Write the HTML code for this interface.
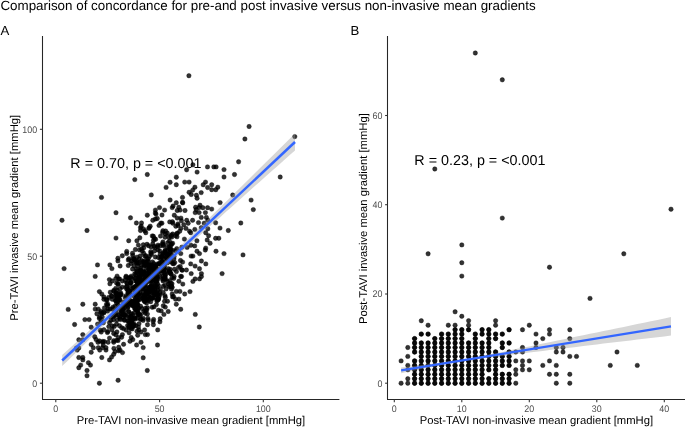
<!DOCTYPE html>
<html><head><meta charset="utf-8"><style>
html,body{margin:0;padding:0;background:#fff;width:685px;height:427px;overflow:hidden}
svg{display:block;will-change:transform}
text{font-family:"Liberation Sans",sans-serif;text-rendering:geometricPrecision}
</style></head><body>
<svg width="685" height="427" viewBox="0 0 685 427">
<rect width="685" height="427" fill="#fff"/>
<text x="0.4" y="10.4" font-size="13.38" fill="#000">Comparison of concordance for pre-and post invasive versus non-invasive mean gradients</text><text x="0.6" y="35" font-size="13.2" fill="#000">A</text><text x="350.6" y="35" font-size="13.2" fill="#000">B</text><g fill="#000" fill-opacity="0.8" stroke="#000" stroke-opacity="0.8" stroke-width="0.5"><circle cx="188.9" cy="75.7" r="2.2"/><circle cx="249.1" cy="126.5" r="2.2"/><circle cx="244.9" cy="139.0" r="2.2"/><circle cx="294.8" cy="136.6" r="2.2"/><circle cx="238.6" cy="161.8" r="2.2"/><circle cx="192.9" cy="164.8" r="2.2"/><circle cx="186.6" cy="169.8" r="2.2"/><circle cx="197.1" cy="172.1" r="2.2"/><circle cx="207.5" cy="166.9" r="2.2"/><circle cx="213.8" cy="166.9" r="2.2"/><circle cx="216.1" cy="166.9" r="2.2"/><circle cx="224.0" cy="169.6" r="2.2"/><circle cx="224.0" cy="177.0" r="2.2"/><circle cx="234.5" cy="174.5" r="2.2"/><circle cx="280.2" cy="177.0" r="2.2"/><circle cx="62.0" cy="220.3" r="2.2"/><circle cx="87.0" cy="230.5" r="2.2"/><circle cx="101.5" cy="197.4" r="2.2"/><circle cx="116.0" cy="212.7" r="2.2"/><circle cx="116.0" cy="238.1" r="2.2"/><circle cx="128.7" cy="240.7" r="2.2"/><circle cx="130.5" cy="217.8" r="2.2"/><circle cx="134.8" cy="179.6" r="2.2"/><circle cx="147.3" cy="174.5" r="2.2"/><circle cx="151.3" cy="194.9" r="2.2"/><circle cx="147.3" cy="215.2" r="2.2"/><circle cx="166.1" cy="187.4" r="2.2"/><circle cx="170.1" cy="182.3" r="2.2"/><circle cx="176.3" cy="177.2" r="2.2"/><circle cx="176.3" cy="184.7" r="2.2"/><circle cx="170.1" cy="200.0" r="2.2"/><circle cx="176.3" cy="202.7" r="2.2"/><circle cx="172.2" cy="207.6" r="2.2"/><circle cx="155.4" cy="210.1" r="2.2"/><circle cx="159.5" cy="207.6" r="2.2"/><circle cx="164.6" cy="210.1" r="2.2"/><circle cx="162.0" cy="215.0" r="2.2"/><circle cx="155.4" cy="219.0" r="2.2"/><circle cx="136.4" cy="223.0" r="2.2"/><circle cx="141.5" cy="223.0" r="2.2"/><circle cx="184.7" cy="182.1" r="2.2"/><circle cx="189.1" cy="182.1" r="2.2"/><circle cx="194.9" cy="187.2" r="2.2"/><circle cx="189.1" cy="192.3" r="2.2"/><circle cx="192.7" cy="190.1" r="2.2"/><circle cx="191.2" cy="194.5" r="2.2"/><circle cx="196.4" cy="195.3" r="2.2"/><circle cx="197.1" cy="198.2" r="2.2"/><circle cx="182.5" cy="197.4" r="2.2"/><circle cx="182.5" cy="202.3" r="2.2"/><circle cx="178.8" cy="207.2" r="2.2"/><circle cx="195.6" cy="207.2" r="2.2"/><circle cx="205.5" cy="182.1" r="2.2"/><circle cx="203.2" cy="184.7" r="2.2"/><circle cx="211.7" cy="184.7" r="2.2"/><circle cx="207.6" cy="187.5" r="2.2"/><circle cx="217.8" cy="187.2" r="2.2"/><circle cx="211.7" cy="189.7" r="2.2"/><circle cx="215.8" cy="189.7" r="2.2"/><circle cx="201.2" cy="192.6" r="2.2"/><circle cx="232.7" cy="195.0" r="2.2"/><circle cx="251.1" cy="200.1" r="2.2"/><circle cx="220.1" cy="202.6" r="2.2"/><circle cx="253.3" cy="209.6" r="2.2"/><circle cx="202.9" cy="207.7" r="2.2"/><circle cx="207.6" cy="207.7" r="2.2"/><circle cx="211.7" cy="209.1" r="2.2"/><circle cx="200.0" cy="205.2" r="2.2"/><circle cx="240.8" cy="223.0" r="2.2"/><circle cx="243.0" cy="254.9" r="2.2"/><circle cx="140.5" cy="227.6" r="2.2"/><circle cx="140.5" cy="230.5" r="2.2"/><circle cx="136.9" cy="240.8" r="2.2"/><circle cx="139.8" cy="237.8" r="2.2"/><circle cx="138.4" cy="245.1" r="2.2"/><circle cx="135.4" cy="249.5" r="2.2"/><circle cx="126.7" cy="251.4" r="2.2"/><circle cx="126.7" cy="253.6" r="2.2"/><circle cx="132.5" cy="253.2" r="2.2"/><circle cx="122.3" cy="255.8" r="2.2"/><circle cx="117.9" cy="258.3" r="2.2"/><circle cx="117.9" cy="260.9" r="2.2"/><circle cx="128.9" cy="258.7" r="2.2"/><circle cx="133.2" cy="258.7" r="2.2"/><circle cx="139.1" cy="259.0" r="2.2"/><circle cx="97.5" cy="264.9" r="2.2"/><circle cx="109.9" cy="264.9" r="2.2"/><circle cx="131.0" cy="263.4" r="2.2"/><circle cx="138.4" cy="263.4" r="2.2"/><circle cx="197.0" cy="251.2" r="2.2"/><circle cx="199.5" cy="253.6" r="2.2"/><circle cx="205.3" cy="250.0" r="2.2"/><circle cx="216.0" cy="251.2" r="2.2"/><circle cx="224.0" cy="253.6" r="2.2"/><circle cx="192.9" cy="256.1" r="2.2"/><circle cx="201.4" cy="261.0" r="2.2"/><circle cx="205.8" cy="263.9" r="2.2"/><circle cx="190.7" cy="263.9" r="2.2"/><circle cx="195.1" cy="266.1" r="2.2"/><circle cx="199.5" cy="268.7" r="2.2"/><circle cx="191.2" cy="273.6" r="2.2"/><circle cx="201.4" cy="273.6" r="2.2"/><circle cx="201.4" cy="276.6" r="2.2"/><circle cx="222.1" cy="273.6" r="2.2"/><circle cx="195.1" cy="278.9" r="2.2"/><circle cx="199.5" cy="278.9" r="2.2"/><circle cx="192.9" cy="281.4" r="2.2"/><circle cx="190.0" cy="291.6" r="2.2"/><circle cx="64.1" cy="268.6" r="2.2"/><circle cx="95.2" cy="276.4" r="2.2"/><circle cx="111.9" cy="268.6" r="2.2"/><circle cx="120.1" cy="266.0" r="2.2"/><circle cx="115.8" cy="278.6" r="2.2"/><circle cx="112.3" cy="281.0" r="2.2"/><circle cx="109.9" cy="283.8" r="2.2"/><circle cx="118.0" cy="283.8" r="2.2"/><circle cx="99.4" cy="291.6" r="2.2"/><circle cx="101.8" cy="294.1" r="2.2"/><circle cx="103.9" cy="296.9" r="2.2"/><circle cx="103.9" cy="299.3" r="2.2"/><circle cx="112.3" cy="299.3" r="2.2"/><circle cx="116.5" cy="296.9" r="2.2"/><circle cx="120.1" cy="288.8" r="2.2"/><circle cx="120.1" cy="294.1" r="2.2"/><circle cx="82.8" cy="304.2" r="2.2"/><circle cx="95.2" cy="304.2" r="2.2"/><circle cx="68.2" cy="309.4" r="2.2"/><circle cx="95.2" cy="309.1" r="2.2"/><circle cx="98.3" cy="309.1" r="2.2"/><circle cx="107.8" cy="304.2" r="2.2"/><circle cx="107.8" cy="309.1" r="2.2"/><circle cx="103.9" cy="312.0" r="2.2"/><circle cx="96.9" cy="313.8" r="2.2"/><circle cx="112.3" cy="309.1" r="2.2"/><circle cx="118.0" cy="304.2" r="2.2"/><circle cx="120.1" cy="300.0" r="2.2"/><circle cx="74.6" cy="324.5" r="2.2"/><circle cx="84.9" cy="319.6" r="2.2"/><circle cx="89.1" cy="319.6" r="2.2"/><circle cx="91.2" cy="327.2" r="2.2"/><circle cx="82.8" cy="334.6" r="2.2"/><circle cx="78.8" cy="339.8" r="2.2"/><circle cx="82.8" cy="339.8" r="2.2"/><circle cx="76.5" cy="348.0" r="2.2"/><circle cx="78.8" cy="348.0" r="2.2"/><circle cx="91.2" cy="344.5" r="2.2"/><circle cx="93.3" cy="347.7" r="2.2"/><circle cx="91.2" cy="352.2" r="2.2"/><circle cx="97.6" cy="324.1" r="2.2"/><circle cx="99.4" cy="317.0" r="2.2"/><circle cx="94.7" cy="336.7" r="2.2"/><circle cx="96.1" cy="339.5" r="2.2"/><circle cx="98.0" cy="342.3" r="2.2"/><circle cx="98.3" cy="347.7" r="2.2"/><circle cx="99.7" cy="350.1" r="2.2"/><circle cx="102.5" cy="347.7" r="2.2"/><circle cx="106.0" cy="347.7" r="2.2"/><circle cx="106.0" cy="350.1" r="2.2"/><circle cx="101.8" cy="357.5" r="2.2"/><circle cx="78.8" cy="357.5" r="2.2"/><circle cx="82.8" cy="357.5" r="2.2"/><circle cx="82.8" cy="359.9" r="2.2"/><circle cx="88.4" cy="362.7" r="2.2"/><circle cx="90.5" cy="365.1" r="2.2"/><circle cx="80.7" cy="365.1" r="2.2"/><circle cx="78.8" cy="367.7" r="2.2"/><circle cx="109.5" cy="359.9" r="2.2"/><circle cx="111.6" cy="357.1" r="2.2"/><circle cx="113.7" cy="354.3" r="2.2"/><circle cx="115.1" cy="351.5" r="2.2"/><circle cx="118.7" cy="347.3" r="2.2"/><circle cx="118.7" cy="350.8" r="2.2"/><circle cx="103.9" cy="329.7" r="2.2"/><circle cx="107.4" cy="332.5" r="2.2"/><circle cx="102.5" cy="342.3" r="2.2"/><circle cx="108.1" cy="342.3" r="2.2"/><circle cx="113.7" cy="342.3" r="2.2"/><circle cx="109.5" cy="338.1" r="2.2"/><circle cx="77.2" cy="350.1" r="2.2"/><circle cx="87.0" cy="370.5" r="2.2"/><circle cx="87.0" cy="375.7" r="2.2"/><circle cx="99.4" cy="383.2" r="2.2"/><circle cx="118.1" cy="380.3" r="2.2"/><circle cx="120.1" cy="350.1" r="2.2"/><circle cx="122.5" cy="352.6" r="2.2"/><circle cx="136.6" cy="345.0" r="2.2"/><circle cx="143.2" cy="347.6" r="2.2"/><circle cx="143.2" cy="357.8" r="2.2"/><circle cx="147.3" cy="370.5" r="2.2"/><circle cx="157.5" cy="345.0" r="2.2"/><circle cx="199.3" cy="327.0" r="2.2"/><circle cx="159.9" cy="321.8" r="2.2"/><circle cx="153.4" cy="324.7" r="2.2"/><circle cx="157.7" cy="329.9" r="2.2"/><circle cx="141.0" cy="342.2" r="2.2"/><circle cx="131.2" cy="337.5" r="2.2"/><circle cx="145.3" cy="334.6" r="2.2"/><circle cx="147.5" cy="334.6" r="2.2"/><circle cx="141.0" cy="332.0" r="2.2"/><circle cx="144.6" cy="329.9" r="2.2"/><circle cx="138.8" cy="329.9" r="2.2"/><circle cx="132.9" cy="324.7" r="2.2"/><circle cx="135.8" cy="325.8" r="2.2"/><circle cx="147.5" cy="324.7" r="2.2"/><circle cx="182.8" cy="284.1" r="2.2"/><circle cx="184.7" cy="294.0" r="2.2"/><circle cx="176.3" cy="291.4" r="2.2"/><circle cx="179.9" cy="291.4" r="2.2"/><circle cx="172.2" cy="294.0" r="2.2"/><circle cx="172.6" cy="296.9" r="2.2"/><circle cx="175.5" cy="299.1" r="2.2"/><circle cx="178.9" cy="299.1" r="2.2"/><circle cx="176.3" cy="304.2" r="2.2"/><circle cx="180.7" cy="309.3" r="2.2"/><circle cx="195.3" cy="314.4" r="2.2"/><circle cx="160.2" cy="318.8" r="2.2"/><circle cx="153.6" cy="319.5" r="2.2"/><circle cx="163.9" cy="314.4" r="2.2"/><circle cx="168.2" cy="311.5" r="2.2"/><circle cx="165.3" cy="307.1" r="2.2"/><circle cx="167.5" cy="301.3" r="2.2"/><circle cx="164.6" cy="301.3" r="2.2"/><circle cx="174.1" cy="276.5" r="2.2"/><circle cx="180.7" cy="276.5" r="2.2"/><circle cx="167.5" cy="281.6" r="2.2"/><circle cx="170.4" cy="286.4" r="2.2"/><circle cx="166.1" cy="288.9" r="2.2"/><circle cx="177.2" cy="210.5" r="2.2"/><circle cx="185.0" cy="210.5" r="2.2"/><circle cx="199.1" cy="207.6" r="2.2"/><circle cx="195.2" cy="212.6" r="2.2"/><circle cx="199.1" cy="212.6" r="2.2"/><circle cx="205.4" cy="212.6" r="2.2"/><circle cx="155.3" cy="213.0" r="2.2"/><circle cx="174.3" cy="215.2" r="2.2"/><circle cx="177.2" cy="218.1" r="2.2"/><circle cx="180.9" cy="218.1" r="2.2"/><circle cx="201.3" cy="217.4" r="2.2"/><circle cx="206.4" cy="217.4" r="2.2"/><circle cx="207.9" cy="220.3" r="2.2"/><circle cx="152.8" cy="220.3" r="2.2"/><circle cx="186.7" cy="220.3" r="2.2"/><circle cx="192.6" cy="220.3" r="2.2"/><circle cx="188.2" cy="223.2" r="2.2"/><circle cx="204.2" cy="223.2" r="2.2"/><circle cx="215.6" cy="222.8" r="2.2"/><circle cx="220.0" cy="228.1" r="2.2"/><circle cx="228.3" cy="230.5" r="2.2"/><circle cx="172.8" cy="223.2" r="2.2"/><circle cx="161.9" cy="223.2" r="2.2"/><circle cx="150.2" cy="226.2" r="2.2"/><circle cx="148.8" cy="228.4" r="2.2"/><circle cx="159.0" cy="225.4" r="2.2"/><circle cx="175.8" cy="226.2" r="2.2"/><circle cx="180.9" cy="228.4" r="2.2"/><circle cx="183.8" cy="224.7" r="2.2"/><circle cx="186.0" cy="228.4" r="2.2"/><circle cx="201.3" cy="227.6" r="2.2"/><circle cx="141.2" cy="226.2" r="2.2"/><circle cx="143.6" cy="229.1" r="2.2"/><circle cx="145.8" cy="232.7" r="2.2"/><circle cx="205.7" cy="232.7" r="2.2"/><circle cx="208.6" cy="235.7" r="2.2"/><circle cx="215.6" cy="238.3" r="2.2"/><circle cx="218.8" cy="238.3" r="2.2"/><circle cx="196.9" cy="240.8" r="2.2"/><circle cx="207.2" cy="240.0" r="2.2"/><circle cx="210.1" cy="243.2" r="2.2"/><circle cx="194.7" cy="245.9" r="2.2"/><circle cx="205.7" cy="248.1" r="2.2"/><circle cx="189.6" cy="231.3" r="2.2"/><circle cx="191.1" cy="256.1" r="2.2"/><circle cx="140.8" cy="275.2" r="2.2"/><circle cx="130.3" cy="300.5" r="2.2"/><circle cx="104.4" cy="341.6" r="2.2"/><circle cx="140.0" cy="281.7" r="2.2"/><circle cx="128.3" cy="293.0" r="2.2"/><circle cx="118.5" cy="315.2" r="2.2"/><circle cx="145.4" cy="275.7" r="2.2"/><circle cx="153.6" cy="263.5" r="2.2"/><circle cx="156.8" cy="299.6" r="2.2"/><circle cx="143.6" cy="272.3" r="2.2"/><circle cx="142.7" cy="298.4" r="2.2"/><circle cx="168.9" cy="237.3" r="2.2"/><circle cx="146.6" cy="303.0" r="2.2"/><circle cx="122.3" cy="311.4" r="2.2"/><circle cx="160.6" cy="270.6" r="2.2"/><circle cx="148.6" cy="292.0" r="2.2"/><circle cx="106.5" cy="304.2" r="2.2"/><circle cx="152.0" cy="287.4" r="2.2"/><circle cx="121.3" cy="294.6" r="2.2"/><circle cx="139.9" cy="289.0" r="2.2"/><circle cx="171.0" cy="258.0" r="2.2"/><circle cx="155.0" cy="292.3" r="2.2"/><circle cx="126.8" cy="289.3" r="2.2"/><circle cx="155.8" cy="278.5" r="2.2"/><circle cx="128.2" cy="290.5" r="2.2"/><circle cx="156.5" cy="275.1" r="2.2"/><circle cx="113.7" cy="333.5" r="2.2"/><circle cx="132.2" cy="320.4" r="2.2"/><circle cx="163.9" cy="279.0" r="2.2"/><circle cx="138.9" cy="277.3" r="2.2"/><circle cx="153.5" cy="240.3" r="2.2"/><circle cx="134.7" cy="273.7" r="2.2"/><circle cx="162.9" cy="252.9" r="2.2"/><circle cx="115.7" cy="288.4" r="2.2"/><circle cx="175.6" cy="250.8" r="2.2"/><circle cx="164.4" cy="277.7" r="2.2"/><circle cx="139.0" cy="276.6" r="2.2"/><circle cx="118.4" cy="305.7" r="2.2"/><circle cx="147.0" cy="244.3" r="2.2"/><circle cx="126.8" cy="303.6" r="2.2"/><circle cx="149.8" cy="287.9" r="2.2"/><circle cx="101.1" cy="311.4" r="2.2"/><circle cx="152.8" cy="298.2" r="2.2"/><circle cx="154.7" cy="271.5" r="2.2"/><circle cx="137.9" cy="300.3" r="2.2"/><circle cx="144.7" cy="301.8" r="2.2"/><circle cx="128.4" cy="311.8" r="2.2"/><circle cx="143.9" cy="296.5" r="2.2"/><circle cx="180.5" cy="260.5" r="2.2"/><circle cx="102.9" cy="341.4" r="2.2"/><circle cx="135.6" cy="309.5" r="2.2"/><circle cx="143.7" cy="253.3" r="2.2"/><circle cx="115.4" cy="310.4" r="2.2"/><circle cx="147.5" cy="293.1" r="2.2"/><circle cx="171.5" cy="234.9" r="2.2"/><circle cx="154.3" cy="270.9" r="2.2"/><circle cx="176.8" cy="248.6" r="2.2"/><circle cx="151.1" cy="246.9" r="2.2"/><circle cx="128.2" cy="289.7" r="2.2"/><circle cx="171.7" cy="254.8" r="2.2"/><circle cx="130.2" cy="295.0" r="2.2"/><circle cx="140.5" cy="272.6" r="2.2"/><circle cx="129.8" cy="317.7" r="2.2"/><circle cx="118.5" cy="296.9" r="2.2"/><circle cx="123.6" cy="328.6" r="2.2"/><circle cx="154.1" cy="267.7" r="2.2"/><circle cx="146.7" cy="282.0" r="2.2"/><circle cx="126.1" cy="276.2" r="2.2"/><circle cx="133.7" cy="302.8" r="2.2"/><circle cx="122.1" cy="307.4" r="2.2"/><circle cx="123.0" cy="309.3" r="2.2"/><circle cx="149.7" cy="264.9" r="2.2"/><circle cx="146.1" cy="299.4" r="2.2"/><circle cx="168.6" cy="284.3" r="2.2"/><circle cx="133.5" cy="303.6" r="2.2"/><circle cx="165.2" cy="275.2" r="2.2"/><circle cx="158.7" cy="263.7" r="2.2"/><circle cx="163.4" cy="245.8" r="2.2"/><circle cx="146.2" cy="299.0" r="2.2"/><circle cx="135.5" cy="288.2" r="2.2"/><circle cx="150.5" cy="290.5" r="2.2"/><circle cx="134.4" cy="308.0" r="2.2"/><circle cx="156.9" cy="301.1" r="2.2"/><circle cx="140.2" cy="314.4" r="2.2"/><circle cx="119.2" cy="300.6" r="2.2"/><circle cx="115.7" cy="300.8" r="2.2"/><circle cx="153.3" cy="293.0" r="2.2"/><circle cx="149.3" cy="289.8" r="2.2"/><circle cx="169.7" cy="248.9" r="2.2"/><circle cx="140.3" cy="283.0" r="2.2"/><circle cx="121.6" cy="337.3" r="2.2"/><circle cx="118.1" cy="340.5" r="2.2"/><circle cx="151.7" cy="297.8" r="2.2"/><circle cx="130.2" cy="286.3" r="2.2"/><circle cx="139.9" cy="276.9" r="2.2"/><circle cx="137.5" cy="295.0" r="2.2"/><circle cx="135.8" cy="292.3" r="2.2"/><circle cx="124.3" cy="310.6" r="2.2"/><circle cx="103.2" cy="345.2" r="2.2"/><circle cx="132.2" cy="328.9" r="2.2"/><circle cx="141.0" cy="285.4" r="2.2"/><circle cx="128.4" cy="321.0" r="2.2"/><circle cx="113.7" cy="290.4" r="2.2"/><circle cx="134.0" cy="296.0" r="2.2"/><circle cx="128.7" cy="279.0" r="2.2"/><circle cx="157.9" cy="278.7" r="2.2"/><circle cx="114.2" cy="315.8" r="2.2"/><circle cx="132.7" cy="288.4" r="2.2"/><circle cx="170.9" cy="245.5" r="2.2"/><circle cx="115.0" cy="311.3" r="2.2"/><circle cx="138.4" cy="295.5" r="2.2"/><circle cx="148.0" cy="276.2" r="2.2"/><circle cx="153.9" cy="271.5" r="2.2"/><circle cx="137.7" cy="265.9" r="2.2"/><circle cx="167.8" cy="242.7" r="2.2"/><circle cx="130.6" cy="282.9" r="2.2"/><circle cx="134.0" cy="312.9" r="2.2"/><circle cx="164.2" cy="269.1" r="2.2"/><circle cx="167.4" cy="262.9" r="2.2"/><circle cx="149.3" cy="294.8" r="2.2"/><circle cx="148.7" cy="273.7" r="2.2"/><circle cx="165.6" cy="279.4" r="2.2"/><circle cx="140.1" cy="281.5" r="2.2"/><circle cx="172.0" cy="283.7" r="2.2"/><circle cx="135.6" cy="294.9" r="2.2"/><circle cx="150.7" cy="301.7" r="2.2"/><circle cx="113.7" cy="340.7" r="2.2"/><circle cx="151.0" cy="253.3" r="2.2"/><circle cx="170.1" cy="254.4" r="2.2"/><circle cx="133.1" cy="305.8" r="2.2"/><circle cx="108.8" cy="326.6" r="2.2"/><circle cx="160.5" cy="236.1" r="2.2"/><circle cx="169.4" cy="241.0" r="2.2"/><circle cx="156.8" cy="264.1" r="2.2"/><circle cx="130.9" cy="277.4" r="2.2"/><circle cx="121.7" cy="327.8" r="2.2"/><circle cx="111.4" cy="295.8" r="2.2"/><circle cx="137.9" cy="313.7" r="2.2"/><circle cx="142.1" cy="308.6" r="2.2"/><circle cx="165.4" cy="250.1" r="2.2"/><circle cx="107.6" cy="311.1" r="2.2"/><circle cx="148.9" cy="296.5" r="2.2"/><circle cx="150.2" cy="286.6" r="2.2"/><circle cx="135.9" cy="303.6" r="2.2"/><circle cx="128.8" cy="300.2" r="2.2"/><circle cx="102.1" cy="313.6" r="2.2"/><circle cx="120.3" cy="295.3" r="2.2"/><circle cx="131.4" cy="319.6" r="2.2"/><circle cx="148.5" cy="261.5" r="2.2"/><circle cx="156.6" cy="271.9" r="2.2"/><circle cx="140.4" cy="315.3" r="2.2"/><circle cx="146.5" cy="265.0" r="2.2"/><circle cx="157.5" cy="246.6" r="2.2"/><circle cx="137.0" cy="331.3" r="2.2"/><circle cx="124.5" cy="319.6" r="2.2"/><circle cx="165.0" cy="252.6" r="2.2"/><circle cx="139.8" cy="292.8" r="2.2"/><circle cx="145.2" cy="262.6" r="2.2"/><circle cx="156.1" cy="277.8" r="2.2"/><circle cx="132.8" cy="318.9" r="2.2"/><circle cx="136.5" cy="302.4" r="2.2"/><circle cx="154.6" cy="294.3" r="2.2"/><circle cx="128.2" cy="306.7" r="2.2"/><circle cx="158.0" cy="245.1" r="2.2"/><circle cx="115.6" cy="300.4" r="2.2"/><circle cx="151.4" cy="275.9" r="2.2"/><circle cx="127.6" cy="325.6" r="2.2"/><circle cx="152.3" cy="288.2" r="2.2"/><circle cx="147.9" cy="318.4" r="2.2"/><circle cx="145.5" cy="278.5" r="2.2"/><circle cx="128.9" cy="302.0" r="2.2"/><circle cx="151.3" cy="265.6" r="2.2"/><circle cx="163.9" cy="265.5" r="2.2"/><circle cx="170.7" cy="260.0" r="2.2"/><circle cx="118.7" cy="279.0" r="2.2"/><circle cx="153.3" cy="287.4" r="2.2"/><circle cx="148.6" cy="289.4" r="2.2"/><circle cx="128.2" cy="299.9" r="2.2"/><circle cx="139.0" cy="323.8" r="2.2"/><circle cx="137.4" cy="282.6" r="2.2"/><circle cx="116.5" cy="324.0" r="2.2"/><circle cx="168.6" cy="255.1" r="2.2"/><circle cx="143.3" cy="318.5" r="2.2"/><circle cx="173.9" cy="258.9" r="2.2"/><circle cx="165.2" cy="276.9" r="2.2"/><circle cx="157.1" cy="280.9" r="2.2"/><circle cx="143.1" cy="320.4" r="2.2"/><circle cx="165.3" cy="297.3" r="2.2"/><circle cx="113.9" cy="348.4" r="2.2"/><circle cx="152.5" cy="261.9" r="2.2"/><circle cx="155.4" cy="283.1" r="2.2"/><circle cx="143.8" cy="271.2" r="2.2"/><circle cx="148.5" cy="300.5" r="2.2"/><circle cx="162.0" cy="257.1" r="2.2"/><circle cx="143.4" cy="289.3" r="2.2"/><circle cx="145.9" cy="255.7" r="2.2"/><circle cx="119.5" cy="325.8" r="2.2"/><circle cx="115.6" cy="315.2" r="2.2"/><circle cx="146.5" cy="290.9" r="2.2"/><circle cx="130.9" cy="323.5" r="2.2"/><circle cx="116.6" cy="340.2" r="2.2"/><circle cx="100.6" cy="323.0" r="2.2"/><circle cx="146.2" cy="270.4" r="2.2"/><circle cx="122.2" cy="308.0" r="2.2"/><circle cx="147.1" cy="277.4" r="2.2"/><circle cx="150.7" cy="297.8" r="2.2"/><circle cx="123.2" cy="305.7" r="2.2"/><circle cx="143.8" cy="311.5" r="2.2"/><circle cx="169.9" cy="272.5" r="2.2"/><circle cx="137.8" cy="289.8" r="2.2"/><circle cx="149.8" cy="265.0" r="2.2"/><circle cx="161.3" cy="273.0" r="2.2"/><circle cx="127.6" cy="307.8" r="2.2"/><circle cx="156.4" cy="304.6" r="2.2"/><circle cx="143.4" cy="284.4" r="2.2"/><circle cx="130.7" cy="323.4" r="2.2"/><circle cx="112.0" cy="329.7" r="2.2"/><circle cx="129.0" cy="278.1" r="2.2"/><circle cx="165.3" cy="274.5" r="2.2"/><circle cx="102.3" cy="317.1" r="2.2"/><circle cx="149.6" cy="274.0" r="2.2"/><circle cx="117.0" cy="319.9" r="2.2"/><circle cx="136.7" cy="291.9" r="2.2"/><circle cx="157.7" cy="270.8" r="2.2"/><circle cx="162.6" cy="279.3" r="2.2"/><circle cx="169.2" cy="259.9" r="2.2"/><circle cx="129.0" cy="327.9" r="2.2"/><circle cx="158.3" cy="298.8" r="2.2"/><circle cx="147.1" cy="291.0" r="2.2"/><circle cx="163.2" cy="292.5" r="2.2"/><circle cx="140.1" cy="283.6" r="2.2"/><circle cx="140.4" cy="279.0" r="2.2"/><circle cx="142.6" cy="285.7" r="2.2"/><circle cx="164.9" cy="295.6" r="2.2"/><circle cx="133.7" cy="300.9" r="2.2"/><circle cx="143.9" cy="299.7" r="2.2"/><circle cx="113.2" cy="316.5" r="2.2"/><circle cx="145.1" cy="294.7" r="2.2"/><circle cx="133.9" cy="287.9" r="2.2"/><circle cx="131.2" cy="316.2" r="2.2"/><circle cx="167.1" cy="254.2" r="2.2"/><circle cx="147.8" cy="288.0" r="2.2"/><circle cx="121.2" cy="312.7" r="2.2"/><circle cx="138.7" cy="299.0" r="2.2"/><circle cx="126.6" cy="282.8" r="2.2"/><circle cx="176.4" cy="271.6" r="2.2"/><circle cx="139.9" cy="299.6" r="2.2"/><circle cx="152.7" cy="288.2" r="2.2"/><circle cx="132.8" cy="339.6" r="2.2"/><circle cx="145.7" cy="310.7" r="2.2"/><circle cx="137.2" cy="285.3" r="2.2"/><circle cx="147.2" cy="299.6" r="2.2"/><circle cx="121.8" cy="310.2" r="2.2"/><circle cx="113.9" cy="291.3" r="2.2"/><circle cx="167.5" cy="259.6" r="2.2"/><circle cx="152.0" cy="298.3" r="2.2"/><circle cx="123.5" cy="314.7" r="2.2"/><circle cx="178.7" cy="251.1" r="2.2"/><circle cx="134.2" cy="324.3" r="2.2"/><circle cx="129.9" cy="301.0" r="2.2"/><circle cx="140.6" cy="268.1" r="2.2"/><circle cx="151.9" cy="289.7" r="2.2"/><circle cx="151.9" cy="280.3" r="2.2"/><circle cx="135.6" cy="309.2" r="2.2"/><circle cx="146.8" cy="309.9" r="2.2"/><circle cx="157.3" cy="287.0" r="2.2"/><circle cx="149.4" cy="256.4" r="2.2"/><circle cx="140.4" cy="319.2" r="2.2"/><circle cx="133.6" cy="325.9" r="2.2"/><circle cx="144.4" cy="301.0" r="2.2"/><circle cx="159.8" cy="276.6" r="2.2"/><circle cx="143.0" cy="261.9" r="2.2"/><circle cx="145.0" cy="282.3" r="2.2"/><circle cx="158.1" cy="290.1" r="2.2"/><circle cx="128.0" cy="292.4" r="2.2"/><circle cx="124.7" cy="307.1" r="2.2"/><circle cx="143.7" cy="264.8" r="2.2"/><circle cx="162.1" cy="261.4" r="2.2"/><circle cx="122.2" cy="287.1" r="2.2"/><circle cx="151.4" cy="288.1" r="2.2"/><circle cx="123.6" cy="344.3" r="2.2"/><circle cx="170.7" cy="248.9" r="2.2"/><circle cx="150.7" cy="251.7" r="2.2"/><circle cx="138.1" cy="289.4" r="2.2"/><circle cx="145.7" cy="265.9" r="2.2"/><circle cx="141.2" cy="284.8" r="2.2"/><circle cx="151.2" cy="265.1" r="2.2"/><circle cx="132.6" cy="314.4" r="2.2"/><circle cx="159.7" cy="250.9" r="2.2"/><circle cx="165.3" cy="255.7" r="2.2"/><circle cx="147.4" cy="314.1" r="2.2"/><circle cx="137.3" cy="318.2" r="2.2"/><circle cx="136.6" cy="306.1" r="2.2"/><circle cx="110.8" cy="316.9" r="2.2"/><circle cx="159.5" cy="263.2" r="2.2"/><circle cx="136.0" cy="286.1" r="2.2"/><circle cx="132.5" cy="269.0" r="2.2"/><circle cx="119.9" cy="318.4" r="2.2"/><circle cx="118.9" cy="307.3" r="2.2"/><circle cx="137.4" cy="291.0" r="2.2"/><circle cx="154.0" cy="306.9" r="2.2"/><circle cx="169.6" cy="271.6" r="2.2"/><circle cx="134.2" cy="287.4" r="2.2"/><circle cx="112.4" cy="325.9" r="2.2"/><circle cx="99.5" cy="341.0" r="2.2"/><circle cx="169.7" cy="280.6" r="2.2"/><circle cx="146.7" cy="258.9" r="2.2"/><circle cx="139.7" cy="271.8" r="2.2"/><circle cx="152.3" cy="267.6" r="2.2"/><circle cx="139.4" cy="283.2" r="2.2"/><circle cx="180.2" cy="266.4" r="2.2"/><circle cx="131.7" cy="305.1" r="2.2"/><circle cx="114.3" cy="326.4" r="2.2"/><circle cx="153.7" cy="266.1" r="2.2"/><circle cx="115.7" cy="295.6" r="2.2"/><circle cx="154.5" cy="285.6" r="2.2"/><circle cx="152.5" cy="276.0" r="2.2"/><circle cx="137.7" cy="335.2" r="2.2"/><circle cx="137.5" cy="290.5" r="2.2"/><circle cx="137.5" cy="290.8" r="2.2"/><circle cx="160.4" cy="289.1" r="2.2"/><circle cx="128.3" cy="265.5" r="2.2"/><circle cx="136.6" cy="300.3" r="2.2"/><circle cx="128.8" cy="277.6" r="2.2"/><circle cx="118.5" cy="337.4" r="2.2"/><circle cx="145.4" cy="280.8" r="2.2"/><circle cx="172.7" cy="234.0" r="2.2"/><circle cx="131.3" cy="276.1" r="2.2"/><circle cx="148.6" cy="245.7" r="2.2"/><circle cx="145.6" cy="284.2" r="2.2"/><circle cx="132.1" cy="323.5" r="2.2"/><circle cx="109.5" cy="322.7" r="2.2"/><circle cx="135.2" cy="288.0" r="2.2"/><circle cx="157.5" cy="283.8" r="2.2"/><circle cx="129.4" cy="294.1" r="2.2"/><circle cx="127.6" cy="301.2" r="2.2"/><circle cx="151.0" cy="267.3" r="2.2"/><circle cx="145.7" cy="278.7" r="2.2"/><circle cx="135.3" cy="317.9" r="2.2"/><circle cx="123.0" cy="317.3" r="2.2"/><circle cx="152.8" cy="243.7" r="2.2"/><circle cx="122.3" cy="281.0" r="2.2"/><circle cx="115.8" cy="293.5" r="2.2"/><circle cx="128.4" cy="295.9" r="2.2"/><circle cx="159.0" cy="297.0" r="2.2"/><circle cx="151.6" cy="286.9" r="2.2"/><circle cx="136.6" cy="289.7" r="2.2"/><circle cx="107.2" cy="300.0" r="2.2"/><circle cx="158.4" cy="299.0" r="2.2"/><circle cx="142.2" cy="273.9" r="2.2"/><circle cx="162.5" cy="243.8" r="2.2"/><circle cx="117.0" cy="298.2" r="2.2"/><circle cx="121.6" cy="313.7" r="2.2"/><circle cx="170.7" cy="236.1" r="2.2"/><circle cx="116.6" cy="313.1" r="2.2"/><circle cx="118.2" cy="284.5" r="2.2"/><circle cx="149.5" cy="291.3" r="2.2"/><circle cx="151.6" cy="285.5" r="2.2"/><circle cx="100.8" cy="312.7" r="2.2"/><circle cx="172.7" cy="263.5" r="2.2"/><circle cx="116.9" cy="331.9" r="2.2"/><circle cx="146.2" cy="292.9" r="2.2"/><circle cx="138.1" cy="281.2" r="2.2"/><circle cx="144.9" cy="285.9" r="2.2"/><circle cx="119.6" cy="279.0" r="2.2"/><circle cx="115.8" cy="334.7" r="2.2"/><circle cx="154.6" cy="272.9" r="2.2"/><circle cx="134.7" cy="300.2" r="2.2"/><circle cx="151.5" cy="254.5" r="2.2"/><circle cx="162.7" cy="270.4" r="2.2"/><circle cx="159.7" cy="292.7" r="2.2"/><circle cx="138.2" cy="315.1" r="2.2"/><circle cx="116.6" cy="309.3" r="2.2"/><circle cx="127.3" cy="320.8" r="2.2"/><circle cx="125.1" cy="315.1" r="2.2"/><circle cx="132.6" cy="326.9" r="2.2"/><circle cx="172.6" cy="243.2" r="2.2"/><circle cx="172.9" cy="250.5" r="2.2"/><circle cx="176.7" cy="233.6" r="2.2"/><circle cx="130.0" cy="341.2" r="2.2"/><circle cx="126.9" cy="286.5" r="2.2"/><circle cx="112.0" cy="296.5" r="2.2"/><circle cx="125.9" cy="287.3" r="2.2"/><circle cx="171.4" cy="255.4" r="2.2"/><circle cx="110.3" cy="292.2" r="2.2"/><circle cx="137.7" cy="292.6" r="2.2"/><circle cx="121.5" cy="306.7" r="2.2"/><circle cx="163.3" cy="286.3" r="2.2"/><circle cx="164.9" cy="250.9" r="2.2"/><circle cx="146.2" cy="262.6" r="2.2"/><circle cx="136.6" cy="272.8" r="2.2"/><circle cx="138.9" cy="262.6" r="2.2"/><circle cx="124.1" cy="315.3" r="2.2"/><circle cx="133.9" cy="265.8" r="2.2"/><circle cx="132.6" cy="305.0" r="2.2"/><circle cx="134.9" cy="278.4" r="2.2"/><circle cx="138.8" cy="285.7" r="2.2"/><circle cx="169.0" cy="256.8" r="2.2"/><circle cx="154.2" cy="295.2" r="2.2"/><circle cx="152.2" cy="291.3" r="2.2"/><circle cx="117.6" cy="293.7" r="2.2"/><circle cx="153.3" cy="271.0" r="2.2"/><circle cx="136.6" cy="262.9" r="2.2"/><circle cx="136.4" cy="281.1" r="2.2"/><circle cx="147.1" cy="264.9" r="2.2"/><circle cx="123.8" cy="302.1" r="2.2"/><circle cx="161.1" cy="257.0" r="2.2"/><circle cx="116.7" cy="303.2" r="2.2"/><circle cx="138.4" cy="327.1" r="2.2"/><circle cx="101.2" cy="332.1" r="2.2"/><circle cx="163.0" cy="281.0" r="2.2"/><circle cx="145.9" cy="299.1" r="2.2"/><circle cx="162.9" cy="276.6" r="2.2"/><circle cx="158.3" cy="299.7" r="2.2"/><circle cx="160.0" cy="294.6" r="2.2"/><circle cx="132.4" cy="324.8" r="2.2"/><circle cx="104.1" cy="312.7" r="2.2"/><circle cx="140.2" cy="270.9" r="2.2"/><circle cx="136.8" cy="270.6" r="2.2"/><circle cx="167.4" cy="247.2" r="2.2"/><circle cx="124.3" cy="320.2" r="2.2"/><circle cx="147.5" cy="260.9" r="2.2"/><circle cx="171.4" cy="289.1" r="2.2"/><circle cx="155.5" cy="266.2" r="2.2"/><circle cx="138.1" cy="307.8" r="2.2"/><circle cx="119.0" cy="299.3" r="2.2"/><circle cx="171.6" cy="244.0" r="2.2"/><circle cx="113.0" cy="307.1" r="2.2"/><circle cx="141.0" cy="270.2" r="2.2"/><circle cx="131.1" cy="303.5" r="2.2"/><circle cx="144.2" cy="287.1" r="2.2"/><circle cx="157.4" cy="294.3" r="2.2"/><circle cx="154.5" cy="251.0" r="2.2"/><circle cx="149.6" cy="281.5" r="2.2"/><circle cx="152.9" cy="291.2" r="2.2"/><circle cx="141.7" cy="265.3" r="2.2"/><circle cx="147.8" cy="296.5" r="2.2"/><circle cx="149.7" cy="268.2" r="2.2"/><circle cx="135.8" cy="294.9" r="2.2"/><circle cx="110.2" cy="309.0" r="2.2"/><circle cx="163.6" cy="244.6" r="2.2"/><circle cx="135.7" cy="281.1" r="2.2"/><circle cx="143.9" cy="297.7" r="2.2"/><circle cx="148.3" cy="320.1" r="2.2"/><circle cx="148.3" cy="258.6" r="2.2"/><circle cx="166.4" cy="258.1" r="2.2"/><circle cx="152.6" cy="280.0" r="2.2"/><circle cx="125.3" cy="302.5" r="2.2"/><circle cx="151.7" cy="271.9" r="2.2"/><circle cx="132.6" cy="290.4" r="2.2"/><circle cx="137.8" cy="311.5" r="2.2"/><circle cx="160.5" cy="264.6" r="2.2"/><circle cx="140.3" cy="255.9" r="2.2"/><circle cx="130.8" cy="295.3" r="2.2"/><circle cx="147.1" cy="291.8" r="2.2"/><circle cx="131.1" cy="313.8" r="2.2"/><circle cx="164.3" cy="272.6" r="2.2"/><circle cx="131.7" cy="322.5" r="2.2"/><circle cx="115.1" cy="306.2" r="2.2"/><circle cx="140.1" cy="269.7" r="2.2"/><circle cx="137.9" cy="292.0" r="2.2"/><circle cx="119.7" cy="316.8" r="2.2"/><circle cx="150.9" cy="286.3" r="2.2"/><circle cx="161.9" cy="256.3" r="2.2"/><circle cx="137.4" cy="304.3" r="2.2"/><circle cx="117.0" cy="297.8" r="2.2"/><circle cx="155.3" cy="257.0" r="2.2"/><circle cx="149.4" cy="290.7" r="2.2"/><circle cx="129.1" cy="323.0" r="2.2"/><circle cx="146.9" cy="277.1" r="2.2"/><circle cx="139.0" cy="274.2" r="2.2"/><circle cx="134.7" cy="319.3" r="2.2"/><circle cx="139.2" cy="279.2" r="2.2"/><circle cx="155.6" cy="297.4" r="2.2"/><circle cx="163.0" cy="262.2" r="2.2"/><circle cx="144.6" cy="276.5" r="2.2"/><circle cx="144.6" cy="297.0" r="2.2"/><circle cx="141.7" cy="294.8" r="2.2"/><circle cx="104.4" cy="307.9" r="2.2"/><circle cx="107.9" cy="331.4" r="2.2"/><circle cx="174.8" cy="262.6" r="2.2"/><circle cx="107.5" cy="305.6" r="2.2"/><circle cx="158.4" cy="271.9" r="2.2"/><circle cx="129.1" cy="332.7" r="2.2"/><circle cx="157.3" cy="293.9" r="2.2"/><circle cx="155.5" cy="286.6" r="2.2"/><circle cx="135.6" cy="274.9" r="2.2"/><circle cx="129.4" cy="291.3" r="2.2"/><circle cx="143.5" cy="261.3" r="2.2"/><circle cx="122.4" cy="334.6" r="2.2"/><circle cx="174.5" cy="269.2" r="2.2"/><circle cx="142.3" cy="251.0" r="2.2"/><circle cx="123.1" cy="304.4" r="2.2"/><circle cx="117.1" cy="276.1" r="2.2"/><circle cx="143.1" cy="291.8" r="2.2"/><circle cx="125.9" cy="315.5" r="2.2"/><circle cx="160.4" cy="258.8" r="2.2"/><circle cx="168.4" cy="268.7" r="2.2"/><circle cx="151.1" cy="281.5" r="2.2"/><circle cx="147.4" cy="307.8" r="2.2"/><circle cx="125.2" cy="297.5" r="2.2"/><circle cx="144.2" cy="266.4" r="2.2"/><circle cx="158.5" cy="285.6" r="2.2"/><circle cx="142.8" cy="288.4" r="2.2"/><circle cx="163.4" cy="270.6" r="2.2"/><circle cx="101.2" cy="321.6" r="2.2"/><circle cx="166.4" cy="257.3" r="2.2"/><circle cx="130.4" cy="282.6" r="2.2"/><circle cx="149.0" cy="277.9" r="2.2"/><circle cx="136.1" cy="269.0" r="2.2"/><circle cx="171.5" cy="286.3" r="2.2"/><circle cx="141.4" cy="319.2" r="2.2"/><circle cx="163.5" cy="268.1" r="2.2"/><circle cx="127.2" cy="283.6" r="2.2"/><circle cx="134.3" cy="317.7" r="2.2"/><circle cx="169.7" cy="271.9" r="2.2"/><circle cx="166.0" cy="270.3" r="2.2"/><circle cx="120.7" cy="293.0" r="2.2"/><circle cx="149.3" cy="287.5" r="2.2"/><circle cx="125.9" cy="277.2" r="2.2"/><circle cx="116.4" cy="293.4" r="2.2"/><circle cx="131.9" cy="278.7" r="2.2"/><circle cx="141.3" cy="296.0" r="2.2"/><circle cx="157.4" cy="295.0" r="2.2"/><circle cx="171.1" cy="273.9" r="2.2"/><circle cx="167.3" cy="253.7" r="2.2"/><circle cx="150.9" cy="276.1" r="2.2"/><circle cx="113.4" cy="319.7" r="2.2"/><circle cx="142.8" cy="272.6" r="2.2"/><circle cx="145.5" cy="308.2" r="2.2"/><circle cx="118.8" cy="297.9" r="2.2"/><circle cx="110.8" cy="320.3" r="2.2"/><circle cx="170.0" cy="252.4" r="2.2"/><circle cx="143.8" cy="272.4" r="2.2"/><circle cx="155.9" cy="267.9" r="2.2"/><circle cx="120.9" cy="310.6" r="2.2"/><circle cx="156.6" cy="291.8" r="2.2"/><circle cx="145.2" cy="294.2" r="2.2"/><circle cx="165.6" cy="231.0" r="2.2"/><circle cx="130.9" cy="328.5" r="2.2"/><circle cx="147.1" cy="277.2" r="2.2"/><circle cx="141.8" cy="280.2" r="2.2"/><circle cx="145.8" cy="273.5" r="2.2"/><circle cx="141.7" cy="260.5" r="2.2"/><circle cx="128.8" cy="311.6" r="2.2"/><circle cx="140.6" cy="306.3" r="2.2"/><circle cx="134.5" cy="286.8" r="2.2"/><circle cx="138.8" cy="280.3" r="2.2"/><circle cx="103.4" cy="322.7" r="2.2"/><circle cx="122.9" cy="307.2" r="2.2"/><circle cx="152.3" cy="292.7" r="2.2"/><circle cx="169.0" cy="286.5" r="2.2"/><circle cx="160.1" cy="254.4" r="2.2"/><circle cx="180.8" cy="253.6" r="2.2"/><circle cx="137.0" cy="303.1" r="2.2"/><circle cx="161.7" cy="262.0" r="2.2"/><circle cx="162.1" cy="265.0" r="2.2"/><circle cx="149.4" cy="268.5" r="2.2"/><circle cx="143.6" cy="276.7" r="2.2"/><circle cx="134.5" cy="260.1" r="2.2"/><circle cx="182.3" cy="270.3" r="2.2"/><circle cx="169.3" cy="246.9" r="2.2"/><circle cx="155.6" cy="239.3" r="2.2"/><circle cx="126.0" cy="295.7" r="2.2"/><circle cx="164.9" cy="285.1" r="2.2"/><circle cx="145.2" cy="313.2" r="2.2"/><circle cx="99.4" cy="318.5" r="2.2"/><circle cx="170.8" cy="283.1" r="2.2"/><circle cx="164.9" cy="252.8" r="2.2"/><circle cx="108.7" cy="297.4" r="2.2"/><circle cx="136.7" cy="295.8" r="2.2"/><circle cx="149.2" cy="227.6" r="2.2"/><circle cx="154.2" cy="290.2" r="2.2"/><circle cx="177.9" cy="223.9" r="2.2"/><circle cx="135.7" cy="277.8" r="2.2"/><circle cx="155.0" cy="289.1" r="2.2"/><circle cx="161.2" cy="310.9" r="2.2"/><circle cx="149.4" cy="270.3" r="2.2"/><circle cx="137.7" cy="310.4" r="2.2"/><circle cx="154.0" cy="268.3" r="2.2"/><circle cx="155.3" cy="247.4" r="2.2"/><circle cx="128.3" cy="260.0" r="2.2"/><circle cx="117.5" cy="295.6" r="2.2"/><circle cx="207.8" cy="228.8" r="2.2"/><circle cx="131.3" cy="282.6" r="2.2"/><circle cx="136.8" cy="261.3" r="2.2"/><circle cx="170.7" cy="250.2" r="2.2"/><circle cx="168.8" cy="272.6" r="2.2"/><circle cx="160.7" cy="223.1" r="2.2"/><circle cx="126.0" cy="330.1" r="2.2"/><circle cx="129.8" cy="291.6" r="2.2"/><circle cx="172.4" cy="221.8" r="2.2"/><circle cx="134.4" cy="306.0" r="2.2"/><circle cx="194.8" cy="229.4" r="2.2"/><circle cx="101.6" cy="319.5" r="2.2"/><circle cx="190.9" cy="245.3" r="2.2"/><circle cx="181.4" cy="220.8" r="2.2"/><circle cx="174.1" cy="256.6" r="2.2"/><circle cx="127.0" cy="305.2" r="2.2"/><circle cx="152.3" cy="235.9" r="2.2"/><circle cx="187.1" cy="247.4" r="2.2"/><circle cx="169.7" cy="221.9" r="2.2"/><circle cx="178.9" cy="281.2" r="2.2"/><circle cx="162.9" cy="230.7" r="2.2"/><circle cx="181.5" cy="276.5" r="2.2"/><circle cx="157.4" cy="276.1" r="2.2"/><circle cx="135.2" cy="261.8" r="2.2"/><circle cx="158.5" cy="310.2" r="2.2"/><circle cx="131.5" cy="261.0" r="2.2"/><circle cx="128.3" cy="303.8" r="2.2"/><circle cx="162.6" cy="232.4" r="2.2"/><circle cx="165.1" cy="237.2" r="2.2"/><circle cx="170.8" cy="261.8" r="2.2"/><circle cx="162.9" cy="241.9" r="2.2"/><circle cx="156.2" cy="281.3" r="2.2"/><circle cx="120.5" cy="319.5" r="2.2"/><circle cx="182.6" cy="262.1" r="2.2"/><circle cx="148.7" cy="268.9" r="2.2"/><circle cx="145.0" cy="256.2" r="2.2"/><circle cx="153.0" cy="282.1" r="2.2"/><circle cx="143.8" cy="247.7" r="2.2"/><circle cx="165.5" cy="234.2" r="2.2"/><circle cx="141.5" cy="248.9" r="2.2"/><circle cx="156.4" cy="278.2" r="2.2"/><circle cx="157.3" cy="218.5" r="2.2"/><circle cx="171.8" cy="237.1" r="2.2"/><circle cx="137.8" cy="304.5" r="2.2"/><circle cx="138.9" cy="278.0" r="2.2"/><circle cx="135.7" cy="299.1" r="2.2"/><circle cx="149.6" cy="267.1" r="2.2"/><circle cx="117.5" cy="300.3" r="2.2"/><circle cx="181.7" cy="269.8" r="2.2"/><circle cx="172.2" cy="287.3" r="2.2"/><circle cx="134.1" cy="258.7" r="2.2"/><circle cx="153.4" cy="236.3" r="2.2"/><circle cx="178.5" cy="267.5" r="2.2"/><circle cx="141.5" cy="281.0" r="2.2"/><circle cx="170.3" cy="269.4" r="2.2"/><circle cx="147.2" cy="273.2" r="2.2"/><circle cx="173.1" cy="206.0" r="2.2"/><circle cx="130.4" cy="316.6" r="2.2"/><circle cx="132.8" cy="255.5" r="2.2"/><circle cx="139.5" cy="249.9" r="2.2"/><circle cx="109.4" cy="279.6" r="2.2"/><circle cx="135.0" cy="305.6" r="2.2"/><circle cx="159.3" cy="269.3" r="2.2"/><circle cx="175.5" cy="235.7" r="2.2"/><circle cx="129.1" cy="291.9" r="2.2"/><circle cx="196.2" cy="209.6" r="2.2"/><circle cx="158.4" cy="257.5" r="2.2"/><circle cx="164.5" cy="266.2" r="2.2"/><circle cx="148.6" cy="269.1" r="2.2"/><circle cx="117.2" cy="290.1" r="2.2"/><circle cx="173.7" cy="263.7" r="2.2"/><circle cx="177.0" cy="236.8" r="2.2"/><circle cx="138.6" cy="308.1" r="2.2"/><circle cx="144.8" cy="230.9" r="2.2"/><circle cx="181.8" cy="247.2" r="2.2"/><circle cx="128.8" cy="326.8" r="2.2"/><circle cx="106.3" cy="299.7" r="2.2"/><circle cx="184.4" cy="239.1" r="2.2"/><circle cx="157.9" cy="249.9" r="2.2"/><circle cx="198.5" cy="222.6" r="2.2"/><circle cx="156.0" cy="214.1" r="2.2"/><circle cx="143.3" cy="244.8" r="2.2"/><circle cx="164.0" cy="259.5" r="2.2"/><circle cx="124.0" cy="314.0" r="2.2"/><circle cx="190.7" cy="232.7" r="2.2"/><circle cx="154.5" cy="238.6" r="2.2"/><circle cx="116.5" cy="282.9" r="2.2"/><circle cx="173.7" cy="278.4" r="2.2"/><circle cx="163.6" cy="253.9" r="2.2"/><circle cx="128.6" cy="316.5" r="2.2"/><circle cx="100.3" cy="330.3" r="2.2"/><circle cx="153.2" cy="321.5" r="2.2"/><circle cx="137.1" cy="257.1" r="2.2"/><circle cx="163.3" cy="305.8" r="2.2"/><circle cx="138.4" cy="313.6" r="2.2"/><circle cx="186.4" cy="270.0" r="2.2"/><circle cx="160.3" cy="245.8" r="2.2"/><circle cx="167.4" cy="251.1" r="2.2"/><circle cx="177.5" cy="233.1" r="2.2"/><circle cx="154.1" cy="246.2" r="2.2"/><circle cx="156.2" cy="265.4" r="2.2"/><circle cx="170.8" cy="273.5" r="2.2"/><circle cx="125.1" cy="280.2" r="2.2"/><circle cx="178.0" cy="225.5" r="2.2"/><circle cx="152.2" cy="307.3" r="2.2"/><circle cx="154.5" cy="292.4" r="2.2"/><circle cx="167.3" cy="233.0" r="2.2"/><circle cx="182.7" cy="202.9" r="2.2"/><circle cx="148.5" cy="279.5" r="2.2"/><circle cx="165.0" cy="278.7" r="2.2"/><circle cx="179.7" cy="231.2" r="2.2"/><circle cx="180.1" cy="210.1" r="2.2"/><circle cx="173.5" cy="296.4" r="2.2"/><circle cx="172.0" cy="277.6" r="2.2"/><circle cx="137.5" cy="282.3" r="2.2"/><circle cx="152.9" cy="275.1" r="2.2"/><circle cx="144.4" cy="282.0" r="2.2"/></g><polygon points="62.2,354.9 68.0,349.7 73.8,344.5 79.7,339.3 85.5,334.0 91.3,328.8 97.1,323.5 102.9,318.3 108.8,313.0 114.6,307.7 120.4,302.4 126.2,297.1 132.0,291.7 137.9,286.3 143.7,280.9 149.5,275.4 155.3,270.0 161.2,264.5 167.0,258.9 172.8,253.3 178.6,247.8 184.4,242.1 190.3,236.5 196.1,230.8 201.9,225.2 207.7,219.5 213.5,213.8 219.4,208.1 225.2,202.4 231.0,196.7 236.8,191.0 242.7,185.2 248.5,179.5 254.3,173.8 260.1,168.0 265.9,162.3 271.8,156.6 277.6,150.8 283.4,145.1 289.2,139.3 295.0,133.6 295.0,150.4 289.2,155.5 283.4,160.7 277.6,165.9 271.8,171.1 265.9,176.2 260.1,181.4 254.3,186.6 248.5,191.8 242.7,197.0 236.8,202.2 231.0,207.4 225.2,212.6 219.4,217.9 213.5,223.1 207.7,228.3 201.9,233.6 196.1,238.8 190.3,244.1 184.4,249.4 178.6,254.7 172.8,260.0 167.0,265.4 161.2,270.8 155.3,276.2 149.5,281.6 143.7,287.1 137.9,292.6 132.0,298.2 126.2,303.7 120.4,309.3 114.6,314.9 108.8,320.6 102.9,326.2 97.1,331.9 91.3,337.6 85.5,343.2 79.7,348.9 73.8,354.7 68.0,360.4 62.2,366.1" fill="#999" fill-opacity="0.4"/><line x1="62.2" y1="360.5" x2="295.0" y2="142.0" stroke="#3366FF" stroke-width="2.5"/><g fill="#000" fill-opacity="0.8" stroke="#000" stroke-opacity="0.8" stroke-width="0.5"><circle cx="401.1" cy="383.2" r="2.2"/><circle cx="401.1" cy="360.9" r="2.2"/><circle cx="407.8" cy="383.2" r="2.2"/><circle cx="407.8" cy="378.7" r="2.2"/><circle cx="407.8" cy="369.8" r="2.2"/><circle cx="407.8" cy="365.4" r="2.2"/><circle cx="407.8" cy="356.4" r="2.2"/><circle cx="407.8" cy="347.5" r="2.2"/><circle cx="414.6" cy="383.2" r="2.2"/><circle cx="414.6" cy="383.2" r="2.2"/><circle cx="414.6" cy="378.7" r="2.2"/><circle cx="414.6" cy="378.7" r="2.2"/><circle cx="414.6" cy="374.3" r="2.2"/><circle cx="414.6" cy="374.3" r="2.2"/><circle cx="414.6" cy="369.8" r="2.2"/><circle cx="414.6" cy="369.8" r="2.2"/><circle cx="414.6" cy="365.4" r="2.2"/><circle cx="414.6" cy="365.4" r="2.2"/><circle cx="414.6" cy="360.9" r="2.2"/><circle cx="414.6" cy="360.9" r="2.2"/><circle cx="414.6" cy="352.0" r="2.2"/><circle cx="414.6" cy="352.0" r="2.2"/><circle cx="414.6" cy="347.5" r="2.2"/><circle cx="414.6" cy="347.5" r="2.2"/><circle cx="414.6" cy="343.0" r="2.2"/><circle cx="414.6" cy="343.0" r="2.2"/><circle cx="414.6" cy="338.6" r="2.2"/><circle cx="414.6" cy="338.6" r="2.2"/><circle cx="421.3" cy="383.2" r="2.2"/><circle cx="421.3" cy="383.2" r="2.2"/><circle cx="421.3" cy="378.7" r="2.2"/><circle cx="421.3" cy="378.7" r="2.2"/><circle cx="421.3" cy="374.3" r="2.2"/><circle cx="421.3" cy="374.3" r="2.2"/><circle cx="421.3" cy="369.8" r="2.2"/><circle cx="421.3" cy="369.8" r="2.2"/><circle cx="421.3" cy="365.4" r="2.2"/><circle cx="421.3" cy="365.4" r="2.2"/><circle cx="421.3" cy="360.9" r="2.2"/><circle cx="421.3" cy="360.9" r="2.2"/><circle cx="421.3" cy="356.4" r="2.2"/><circle cx="421.3" cy="356.4" r="2.2"/><circle cx="421.3" cy="352.0" r="2.2"/><circle cx="421.3" cy="352.0" r="2.2"/><circle cx="421.3" cy="347.5" r="2.2"/><circle cx="421.3" cy="347.5" r="2.2"/><circle cx="421.3" cy="343.0" r="2.2"/><circle cx="421.3" cy="343.0" r="2.2"/><circle cx="421.3" cy="334.1" r="2.2"/><circle cx="421.3" cy="334.1" r="2.2"/><circle cx="421.3" cy="320.7" r="2.2"/><circle cx="428.1" cy="383.2" r="2.2"/><circle cx="428.1" cy="383.2" r="2.2"/><circle cx="428.1" cy="378.7" r="2.2"/><circle cx="428.1" cy="378.7" r="2.2"/><circle cx="428.1" cy="374.3" r="2.2"/><circle cx="428.1" cy="374.3" r="2.2"/><circle cx="428.1" cy="369.8" r="2.2"/><circle cx="428.1" cy="369.8" r="2.2"/><circle cx="428.1" cy="365.4" r="2.2"/><circle cx="428.1" cy="365.4" r="2.2"/><circle cx="428.1" cy="360.9" r="2.2"/><circle cx="428.1" cy="360.9" r="2.2"/><circle cx="428.1" cy="356.4" r="2.2"/><circle cx="428.1" cy="356.4" r="2.2"/><circle cx="428.1" cy="352.0" r="2.2"/><circle cx="428.1" cy="352.0" r="2.2"/><circle cx="428.1" cy="347.5" r="2.2"/><circle cx="428.1" cy="347.5" r="2.2"/><circle cx="428.1" cy="343.0" r="2.2"/><circle cx="428.1" cy="343.0" r="2.2"/><circle cx="428.1" cy="334.1" r="2.2"/><circle cx="428.1" cy="334.1" r="2.2"/><circle cx="428.1" cy="325.2" r="2.2"/><circle cx="428.1" cy="253.8" r="2.2"/><circle cx="434.8" cy="383.2" r="2.2"/><circle cx="434.8" cy="383.2" r="2.2"/><circle cx="434.8" cy="378.7" r="2.2"/><circle cx="434.8" cy="378.7" r="2.2"/><circle cx="434.8" cy="374.3" r="2.2"/><circle cx="434.8" cy="374.3" r="2.2"/><circle cx="434.8" cy="369.8" r="2.2"/><circle cx="434.8" cy="369.8" r="2.2"/><circle cx="434.8" cy="365.4" r="2.2"/><circle cx="434.8" cy="365.4" r="2.2"/><circle cx="434.8" cy="360.9" r="2.2"/><circle cx="434.8" cy="360.9" r="2.2"/><circle cx="434.8" cy="356.4" r="2.2"/><circle cx="434.8" cy="356.4" r="2.2"/><circle cx="434.8" cy="352.0" r="2.2"/><circle cx="434.8" cy="352.0" r="2.2"/><circle cx="434.8" cy="347.5" r="2.2"/><circle cx="434.8" cy="347.5" r="2.2"/><circle cx="434.8" cy="343.0" r="2.2"/><circle cx="434.8" cy="343.0" r="2.2"/><circle cx="434.8" cy="338.6" r="2.2"/><circle cx="434.8" cy="338.6" r="2.2"/><circle cx="434.8" cy="169.0" r="2.2"/><circle cx="441.6" cy="383.2" r="2.2"/><circle cx="441.6" cy="383.2" r="2.2"/><circle cx="441.6" cy="378.7" r="2.2"/><circle cx="441.6" cy="378.7" r="2.2"/><circle cx="441.6" cy="374.3" r="2.2"/><circle cx="441.6" cy="374.3" r="2.2"/><circle cx="441.6" cy="369.8" r="2.2"/><circle cx="441.6" cy="369.8" r="2.2"/><circle cx="441.6" cy="365.4" r="2.2"/><circle cx="441.6" cy="365.4" r="2.2"/><circle cx="441.6" cy="360.9" r="2.2"/><circle cx="441.6" cy="360.9" r="2.2"/><circle cx="441.6" cy="356.4" r="2.2"/><circle cx="441.6" cy="356.4" r="2.2"/><circle cx="441.6" cy="352.0" r="2.2"/><circle cx="441.6" cy="352.0" r="2.2"/><circle cx="441.6" cy="347.5" r="2.2"/><circle cx="441.6" cy="347.5" r="2.2"/><circle cx="441.6" cy="343.0" r="2.2"/><circle cx="441.6" cy="343.0" r="2.2"/><circle cx="441.6" cy="338.6" r="2.2"/><circle cx="441.6" cy="338.6" r="2.2"/><circle cx="441.6" cy="334.1" r="2.2"/><circle cx="441.6" cy="334.1" r="2.2"/><circle cx="448.3" cy="383.2" r="2.2"/><circle cx="448.3" cy="383.2" r="2.2"/><circle cx="448.3" cy="378.7" r="2.2"/><circle cx="448.3" cy="378.7" r="2.2"/><circle cx="448.3" cy="374.3" r="2.2"/><circle cx="448.3" cy="374.3" r="2.2"/><circle cx="448.3" cy="369.8" r="2.2"/><circle cx="448.3" cy="369.8" r="2.2"/><circle cx="448.3" cy="365.4" r="2.2"/><circle cx="448.3" cy="365.4" r="2.2"/><circle cx="448.3" cy="360.9" r="2.2"/><circle cx="448.3" cy="360.9" r="2.2"/><circle cx="448.3" cy="356.4" r="2.2"/><circle cx="448.3" cy="356.4" r="2.2"/><circle cx="448.3" cy="352.0" r="2.2"/><circle cx="448.3" cy="352.0" r="2.2"/><circle cx="448.3" cy="347.5" r="2.2"/><circle cx="448.3" cy="347.5" r="2.2"/><circle cx="448.3" cy="343.0" r="2.2"/><circle cx="448.3" cy="343.0" r="2.2"/><circle cx="448.3" cy="338.6" r="2.2"/><circle cx="448.3" cy="338.6" r="2.2"/><circle cx="448.3" cy="334.1" r="2.2"/><circle cx="448.3" cy="334.1" r="2.2"/><circle cx="448.3" cy="325.2" r="2.2"/><circle cx="455.1" cy="383.2" r="2.2"/><circle cx="455.1" cy="383.2" r="2.2"/><circle cx="455.1" cy="378.7" r="2.2"/><circle cx="455.1" cy="378.7" r="2.2"/><circle cx="455.1" cy="374.3" r="2.2"/><circle cx="455.1" cy="374.3" r="2.2"/><circle cx="455.1" cy="369.8" r="2.2"/><circle cx="455.1" cy="369.8" r="2.2"/><circle cx="455.1" cy="365.4" r="2.2"/><circle cx="455.1" cy="365.4" r="2.2"/><circle cx="455.1" cy="360.9" r="2.2"/><circle cx="455.1" cy="360.9" r="2.2"/><circle cx="455.1" cy="356.4" r="2.2"/><circle cx="455.1" cy="356.4" r="2.2"/><circle cx="455.1" cy="352.0" r="2.2"/><circle cx="455.1" cy="352.0" r="2.2"/><circle cx="455.1" cy="347.5" r="2.2"/><circle cx="455.1" cy="347.5" r="2.2"/><circle cx="455.1" cy="343.0" r="2.2"/><circle cx="455.1" cy="343.0" r="2.2"/><circle cx="455.1" cy="338.6" r="2.2"/><circle cx="455.1" cy="338.6" r="2.2"/><circle cx="455.1" cy="334.1" r="2.2"/><circle cx="455.1" cy="334.1" r="2.2"/><circle cx="455.1" cy="329.7" r="2.2"/><circle cx="455.1" cy="329.7" r="2.2"/><circle cx="455.1" cy="325.2" r="2.2"/><circle cx="455.1" cy="311.8" r="2.2"/><circle cx="461.8" cy="383.2" r="2.2"/><circle cx="461.8" cy="383.2" r="2.2"/><circle cx="461.8" cy="378.7" r="2.2"/><circle cx="461.8" cy="378.7" r="2.2"/><circle cx="461.8" cy="374.3" r="2.2"/><circle cx="461.8" cy="374.3" r="2.2"/><circle cx="461.8" cy="369.8" r="2.2"/><circle cx="461.8" cy="369.8" r="2.2"/><circle cx="461.8" cy="365.4" r="2.2"/><circle cx="461.8" cy="365.4" r="2.2"/><circle cx="461.8" cy="360.9" r="2.2"/><circle cx="461.8" cy="360.9" r="2.2"/><circle cx="461.8" cy="356.4" r="2.2"/><circle cx="461.8" cy="356.4" r="2.2"/><circle cx="461.8" cy="352.0" r="2.2"/><circle cx="461.8" cy="352.0" r="2.2"/><circle cx="461.8" cy="347.5" r="2.2"/><circle cx="461.8" cy="347.5" r="2.2"/><circle cx="461.8" cy="343.0" r="2.2"/><circle cx="461.8" cy="343.0" r="2.2"/><circle cx="461.8" cy="338.6" r="2.2"/><circle cx="461.8" cy="338.6" r="2.2"/><circle cx="461.8" cy="334.1" r="2.2"/><circle cx="461.8" cy="334.1" r="2.2"/><circle cx="461.8" cy="329.7" r="2.2"/><circle cx="461.8" cy="329.7" r="2.2"/><circle cx="461.8" cy="316.3" r="2.2"/><circle cx="461.8" cy="276.1" r="2.2"/><circle cx="461.8" cy="262.7" r="2.2"/><circle cx="461.8" cy="244.9" r="2.2"/><circle cx="468.6" cy="383.2" r="2.2"/><circle cx="468.6" cy="383.2" r="2.2"/><circle cx="468.6" cy="378.7" r="2.2"/><circle cx="468.6" cy="378.7" r="2.2"/><circle cx="468.6" cy="374.3" r="2.2"/><circle cx="468.6" cy="374.3" r="2.2"/><circle cx="468.6" cy="369.8" r="2.2"/><circle cx="468.6" cy="369.8" r="2.2"/><circle cx="468.6" cy="365.4" r="2.2"/><circle cx="468.6" cy="365.4" r="2.2"/><circle cx="468.6" cy="360.9" r="2.2"/><circle cx="468.6" cy="360.9" r="2.2"/><circle cx="468.6" cy="356.4" r="2.2"/><circle cx="468.6" cy="356.4" r="2.2"/><circle cx="468.6" cy="352.0" r="2.2"/><circle cx="468.6" cy="352.0" r="2.2"/><circle cx="468.6" cy="347.5" r="2.2"/><circle cx="468.6" cy="347.5" r="2.2"/><circle cx="468.6" cy="343.0" r="2.2"/><circle cx="468.6" cy="343.0" r="2.2"/><circle cx="468.6" cy="329.7" r="2.2"/><circle cx="468.6" cy="329.7" r="2.2"/><circle cx="468.6" cy="325.2" r="2.2"/><circle cx="468.6" cy="320.7" r="2.2"/><circle cx="475.3" cy="383.2" r="2.2"/><circle cx="475.3" cy="383.2" r="2.2"/><circle cx="475.3" cy="378.7" r="2.2"/><circle cx="475.3" cy="378.7" r="2.2"/><circle cx="475.3" cy="374.3" r="2.2"/><circle cx="475.3" cy="374.3" r="2.2"/><circle cx="475.3" cy="369.8" r="2.2"/><circle cx="475.3" cy="369.8" r="2.2"/><circle cx="475.3" cy="365.4" r="2.2"/><circle cx="475.3" cy="365.4" r="2.2"/><circle cx="475.3" cy="360.9" r="2.2"/><circle cx="475.3" cy="360.9" r="2.2"/><circle cx="475.3" cy="356.4" r="2.2"/><circle cx="475.3" cy="356.4" r="2.2"/><circle cx="475.3" cy="352.0" r="2.2"/><circle cx="475.3" cy="352.0" r="2.2"/><circle cx="475.3" cy="347.5" r="2.2"/><circle cx="475.3" cy="347.5" r="2.2"/><circle cx="475.3" cy="343.0" r="2.2"/><circle cx="475.3" cy="343.0" r="2.2"/><circle cx="475.3" cy="338.6" r="2.2"/><circle cx="475.3" cy="338.6" r="2.2"/><circle cx="475.3" cy="334.1" r="2.2"/><circle cx="475.3" cy="334.1" r="2.2"/><circle cx="475.3" cy="53.0" r="2.2"/><circle cx="482.1" cy="383.2" r="2.2"/><circle cx="482.1" cy="383.2" r="2.2"/><circle cx="482.1" cy="378.7" r="2.2"/><circle cx="482.1" cy="378.7" r="2.2"/><circle cx="482.1" cy="374.3" r="2.2"/><circle cx="482.1" cy="374.3" r="2.2"/><circle cx="482.1" cy="369.8" r="2.2"/><circle cx="482.1" cy="369.8" r="2.2"/><circle cx="482.1" cy="365.4" r="2.2"/><circle cx="482.1" cy="365.4" r="2.2"/><circle cx="482.1" cy="360.9" r="2.2"/><circle cx="482.1" cy="360.9" r="2.2"/><circle cx="482.1" cy="356.4" r="2.2"/><circle cx="482.1" cy="356.4" r="2.2"/><circle cx="482.1" cy="352.0" r="2.2"/><circle cx="482.1" cy="352.0" r="2.2"/><circle cx="482.1" cy="347.5" r="2.2"/><circle cx="482.1" cy="347.5" r="2.2"/><circle cx="482.1" cy="343.0" r="2.2"/><circle cx="482.1" cy="343.0" r="2.2"/><circle cx="482.1" cy="334.1" r="2.2"/><circle cx="482.1" cy="334.1" r="2.2"/><circle cx="482.1" cy="329.7" r="2.2"/><circle cx="482.1" cy="329.7" r="2.2"/><circle cx="488.8" cy="383.2" r="2.2"/><circle cx="488.8" cy="383.2" r="2.2"/><circle cx="488.8" cy="378.7" r="2.2"/><circle cx="488.8" cy="378.7" r="2.2"/><circle cx="488.8" cy="369.8" r="2.2"/><circle cx="488.8" cy="369.8" r="2.2"/><circle cx="488.8" cy="365.4" r="2.2"/><circle cx="488.8" cy="365.4" r="2.2"/><circle cx="488.8" cy="360.9" r="2.2"/><circle cx="488.8" cy="360.9" r="2.2"/><circle cx="488.8" cy="356.4" r="2.2"/><circle cx="488.8" cy="356.4" r="2.2"/><circle cx="488.8" cy="352.0" r="2.2"/><circle cx="488.8" cy="352.0" r="2.2"/><circle cx="488.8" cy="347.5" r="2.2"/><circle cx="488.8" cy="347.5" r="2.2"/><circle cx="488.8" cy="343.0" r="2.2"/><circle cx="488.8" cy="343.0" r="2.2"/><circle cx="488.8" cy="338.6" r="2.2"/><circle cx="488.8" cy="338.6" r="2.2"/><circle cx="488.8" cy="334.1" r="2.2"/><circle cx="488.8" cy="334.1" r="2.2"/><circle cx="488.8" cy="329.7" r="2.2"/><circle cx="488.8" cy="329.7" r="2.2"/><circle cx="495.6" cy="383.2" r="2.2"/><circle cx="495.6" cy="383.2" r="2.2"/><circle cx="495.6" cy="378.7" r="2.2"/><circle cx="495.6" cy="378.7" r="2.2"/><circle cx="495.6" cy="374.3" r="2.2"/><circle cx="495.6" cy="374.3" r="2.2"/><circle cx="495.6" cy="369.8" r="2.2"/><circle cx="495.6" cy="369.8" r="2.2"/><circle cx="495.6" cy="365.4" r="2.2"/><circle cx="495.6" cy="365.4" r="2.2"/><circle cx="495.6" cy="360.9" r="2.2"/><circle cx="495.6" cy="360.9" r="2.2"/><circle cx="495.6" cy="356.4" r="2.2"/><circle cx="495.6" cy="356.4" r="2.2"/><circle cx="495.6" cy="352.0" r="2.2"/><circle cx="495.6" cy="352.0" r="2.2"/><circle cx="495.6" cy="338.6" r="2.2"/><circle cx="495.6" cy="338.6" r="2.2"/><circle cx="495.6" cy="334.1" r="2.2"/><circle cx="495.6" cy="334.1" r="2.2"/><circle cx="495.6" cy="325.2" r="2.2"/><circle cx="495.6" cy="320.7" r="2.2"/><circle cx="502.3" cy="383.2" r="2.2"/><circle cx="502.3" cy="383.2" r="2.2"/><circle cx="502.3" cy="378.7" r="2.2"/><circle cx="502.3" cy="378.7" r="2.2"/><circle cx="502.3" cy="374.3" r="2.2"/><circle cx="502.3" cy="374.3" r="2.2"/><circle cx="502.3" cy="365.4" r="2.2"/><circle cx="502.3" cy="365.4" r="2.2"/><circle cx="502.3" cy="360.9" r="2.2"/><circle cx="502.3" cy="360.9" r="2.2"/><circle cx="502.3" cy="356.4" r="2.2"/><circle cx="502.3" cy="356.4" r="2.2"/><circle cx="502.3" cy="347.5" r="2.2"/><circle cx="502.3" cy="347.5" r="2.2"/><circle cx="502.3" cy="343.0" r="2.2"/><circle cx="502.3" cy="343.0" r="2.2"/><circle cx="502.3" cy="334.1" r="2.2"/><circle cx="502.3" cy="334.1" r="2.2"/><circle cx="502.3" cy="218.1" r="2.2"/><circle cx="502.3" cy="79.8" r="2.2"/><circle cx="509.1" cy="383.2" r="2.2"/><circle cx="509.1" cy="383.2" r="2.2"/><circle cx="509.1" cy="378.7" r="2.2"/><circle cx="509.1" cy="378.7" r="2.2"/><circle cx="509.1" cy="374.3" r="2.2"/><circle cx="509.1" cy="374.3" r="2.2"/><circle cx="509.1" cy="365.4" r="2.2"/><circle cx="509.1" cy="365.4" r="2.2"/><circle cx="509.1" cy="360.9" r="2.2"/><circle cx="509.1" cy="360.9" r="2.2"/><circle cx="509.1" cy="356.4" r="2.2"/><circle cx="509.1" cy="356.4" r="2.2"/><circle cx="509.1" cy="352.0" r="2.2"/><circle cx="509.1" cy="352.0" r="2.2"/><circle cx="509.1" cy="343.0" r="2.2"/><circle cx="509.1" cy="343.0" r="2.2"/><circle cx="509.1" cy="329.7" r="2.2"/><circle cx="509.1" cy="329.7" r="2.2"/><circle cx="515.8" cy="383.2" r="2.2"/><circle cx="515.8" cy="374.3" r="2.2"/><circle cx="515.8" cy="369.8" r="2.2"/><circle cx="515.8" cy="360.9" r="2.2"/><circle cx="515.8" cy="352.0" r="2.2"/><circle cx="522.5" cy="369.8" r="2.2"/><circle cx="522.5" cy="365.4" r="2.2"/><circle cx="522.5" cy="360.9" r="2.2"/><circle cx="522.5" cy="352.0" r="2.2"/><circle cx="522.5" cy="347.5" r="2.2"/><circle cx="522.5" cy="329.7" r="2.2"/><circle cx="529.3" cy="369.8" r="2.2"/><circle cx="529.3" cy="360.9" r="2.2"/><circle cx="529.3" cy="325.2" r="2.2"/><circle cx="536.0" cy="347.5" r="2.2"/><circle cx="536.0" cy="343.0" r="2.2"/><circle cx="536.0" cy="334.1" r="2.2"/><circle cx="542.8" cy="365.4" r="2.2"/><circle cx="542.8" cy="338.6" r="2.2"/><circle cx="549.5" cy="374.3" r="2.2"/><circle cx="549.5" cy="360.9" r="2.2"/><circle cx="549.5" cy="334.1" r="2.2"/><circle cx="549.5" cy="329.7" r="2.2"/><circle cx="549.5" cy="267.2" r="2.2"/><circle cx="556.3" cy="383.2" r="2.2"/><circle cx="556.3" cy="374.3" r="2.2"/><circle cx="556.3" cy="365.4" r="2.2"/><circle cx="556.3" cy="352.0" r="2.2"/><circle cx="556.3" cy="347.5" r="2.2"/><circle cx="563.0" cy="352.0" r="2.2"/><circle cx="563.0" cy="347.5" r="2.2"/><circle cx="569.8" cy="383.2" r="2.2"/><circle cx="569.8" cy="374.3" r="2.2"/><circle cx="569.8" cy="356.4" r="2.2"/><circle cx="569.8" cy="338.6" r="2.2"/><circle cx="569.8" cy="329.7" r="2.2"/><circle cx="576.5" cy="356.4" r="2.2"/><circle cx="590.0" cy="298.4" r="2.2"/><circle cx="610.3" cy="365.4" r="2.2"/><circle cx="617.0" cy="352.0" r="2.2"/><circle cx="623.8" cy="253.8" r="2.2"/><circle cx="637.3" cy="365.4" r="2.2"/><circle cx="671.0" cy="209.2" r="2.2"/></g><polygon points="401.1,367.6 407.8,366.8 414.6,365.9 421.3,365.1 428.1,364.3 434.8,363.4 441.6,362.5 448.3,361.6 455.1,360.7 461.8,359.6 468.6,358.5 475.3,357.2 482.1,355.9 488.8,354.6 495.6,353.3 502.3,351.9 509.1,350.5 515.8,349.1 522.5,347.8 529.3,346.4 536.0,345.0 542.8,343.6 549.5,342.2 556.3,340.8 563.0,339.4 569.8,338.0 576.5,336.6 583.3,335.2 590.0,333.8 596.8,332.5 603.5,331.1 610.3,329.7 617.0,328.3 623.8,326.9 630.5,325.5 637.3,324.1 644.0,322.7 650.8,321.3 657.5,319.9 664.3,318.5 671.0,317.1 671.0,335.6 664.3,336.4 657.5,337.2 650.8,338.0 644.0,338.8 637.3,339.6 630.5,340.4 623.8,341.2 617.0,342.0 610.3,342.8 603.5,343.6 596.8,344.4 590.0,345.2 583.3,346.1 576.5,346.9 569.8,347.7 563.0,348.5 556.3,349.3 549.5,350.1 542.8,350.9 536.0,351.7 529.3,352.6 522.5,353.4 515.8,354.2 509.1,355.0 502.3,355.9 495.6,356.7 488.8,357.6 482.1,358.4 475.3,359.3 468.6,360.3 461.8,361.4 455.1,362.5 448.3,363.8 441.6,365.0 434.8,366.4 428.1,367.7 421.3,369.1 414.6,370.5 407.8,371.8 401.1,373.2" fill="#999" fill-opacity="0.4"/><line x1="401.1" y1="370.4" x2="671.0" y2="326.3" stroke="#3366FF" stroke-width="2.3"/><text x="70.3" y="167.8" font-size="14.35" fill="#000">R = 0.70, p = &lt;0.001</text><text x="414.3" y="165" font-size="14.35" fill="#000">R = 0.23, p = &lt;0.001</text><g stroke="#262626" stroke-width="1.07" fill="none" stroke-linejoin="round"><polyline points="42.5,36 42.5,399.5 339.4,399.5"/><polyline points="387.5,36 387.5,399.5 685,399.5"/></g><g stroke="#333" stroke-width="1.07"><line x1="39.9" y1="383.2" x2="42.5" y2="383.2"/><line x1="55.8" y1="399.5" x2="55.8" y2="402.2"/><line x1="39.9" y1="256.2" x2="42.5" y2="256.2"/><line x1="159.6" y1="399.5" x2="159.6" y2="402.2"/><line x1="39.9" y1="129.3" x2="42.5" y2="129.3"/><line x1="263.3" y1="399.5" x2="263.3" y2="402.2"/><line x1="385.1" y1="383.2" x2="387.5" y2="383.2"/><line x1="385.1" y1="294.0" x2="387.5" y2="294.0"/><line x1="385.1" y1="204.7" x2="387.5" y2="204.7"/><line x1="385.1" y1="115.5" x2="387.5" y2="115.5"/><line x1="394.3" y1="399.5" x2="394.3" y2="402.2"/><line x1="461.8" y1="399.5" x2="461.8" y2="402.2"/><line x1="529.3" y1="399.5" x2="529.3" y2="402.2"/><line x1="596.8" y1="399.5" x2="596.8" y2="402.2"/><line x1="664.3" y1="399.5" x2="664.3" y2="402.2"/></g><g font-size="9.5" fill="#4D4D4D"><text x="37.2" y="386.6" text-anchor="end" textLength="4.95" lengthAdjust="spacingAndGlyphs">0</text><text x="55.8" y="411.7" text-anchor="middle" textLength="4.95" lengthAdjust="spacingAndGlyphs">0</text><text x="37.2" y="259.6" text-anchor="end" textLength="9.90" lengthAdjust="spacingAndGlyphs">50</text><text x="159.6" y="411.7" text-anchor="middle" textLength="9.90" lengthAdjust="spacingAndGlyphs">50</text><text x="37.2" y="132.7" text-anchor="end" textLength="14.85" lengthAdjust="spacingAndGlyphs">100</text><text x="263.3" y="411.7" text-anchor="middle" textLength="14.85" lengthAdjust="spacingAndGlyphs">100</text><text x="382.4" y="386.6" text-anchor="end" textLength="4.95" lengthAdjust="spacingAndGlyphs">0</text><text x="382.4" y="297.4" text-anchor="end" textLength="9.90" lengthAdjust="spacingAndGlyphs">20</text><text x="382.4" y="208.1" text-anchor="end" textLength="9.90" lengthAdjust="spacingAndGlyphs">40</text><text x="382.4" y="118.9" text-anchor="end" textLength="9.90" lengthAdjust="spacingAndGlyphs">60</text><text x="394.3" y="411.7" text-anchor="middle" textLength="4.95" lengthAdjust="spacingAndGlyphs">0</text><text x="461.8" y="411.7" text-anchor="middle" textLength="9.90" lengthAdjust="spacingAndGlyphs">10</text><text x="529.3" y="411.7" text-anchor="middle" textLength="9.90" lengthAdjust="spacingAndGlyphs">20</text><text x="596.8" y="411.7" text-anchor="middle" textLength="9.90" lengthAdjust="spacingAndGlyphs">30</text><text x="664.3" y="411.7" text-anchor="middle" textLength="9.90" lengthAdjust="spacingAndGlyphs">40</text></g><g font-size="11.25" fill="#000"><text x="191" y="423.8" text-anchor="middle">Pre-TAVI non-invasive mean gradient [mmHg]</text><text x="536.4" y="423.8" text-anchor="middle">Post-TAVI non-invasive mean gradient [mmHg]</text><text transform="translate(17.8,217.8) rotate(-90)" text-anchor="middle">Pre-TAVI invasive mean gradient [mmHg]</text><text transform="translate(367.4,218.6) rotate(-90)" text-anchor="middle">Post-TAVI invasive mean gradient [mmHg]</text></g>
</svg>
</body></html>
